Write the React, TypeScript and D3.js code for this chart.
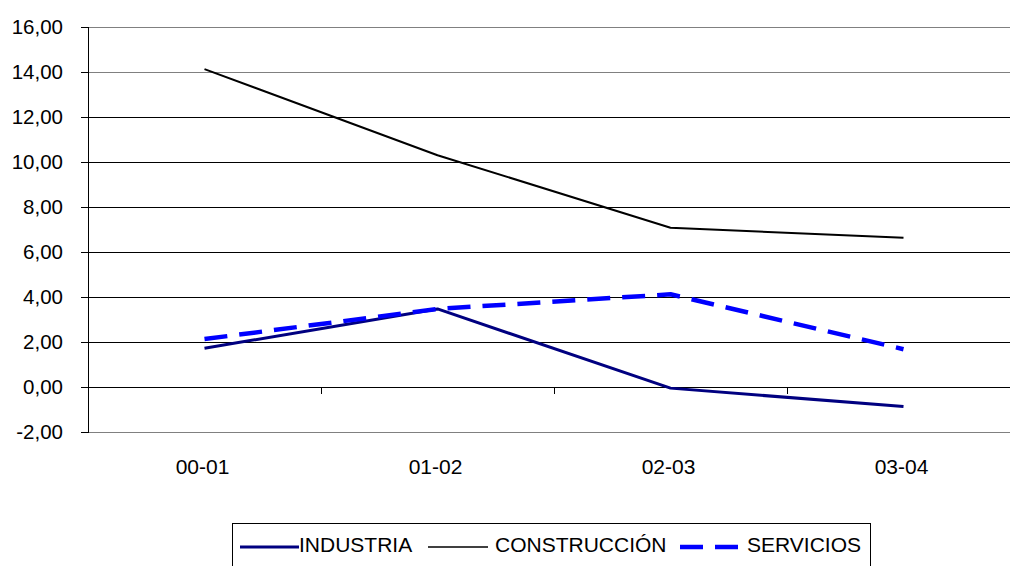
import React from 'react';
import * as d3 from 'd3';

// periods on the x axis
const periods = ['00-01', '01-02', '02-03', '03-04'];

// series values
const industria = [1.72, 3.47, -0.05, -0.87];
const construccion = [14.13, 10.3, 7.08, 6.63];
const servicios = [2.13, 3.47, 4.12, 1.68];

const yTicks = [-2, 0, 2, 4, 6, 8, 10, 12, 14, 16];

const seriesList = [
  { name: 'INDUSTRIA', values: industria, color: '#000080', width: 3, dash: '' },
  { name: 'CONSTRUCCIÓN', values: construccion, color: '#000000', width: 2, dash: '' },
  { name: 'SERVICIOS', values: servicios, color: '#0000ff', width: 4.5, dash: '23,12' },
];

const W = 1010;
const H = 566;
const FONT = '"Liberation Sans", Arial, sans-serif';

export default function App() {
  const left = 88;
  const right = 1020;
  const top = 27;
  const bottom = 432;

  const x = d3.scaleBand<string>().domain(periods).range([left, right]);
  const y = d3.scaleLinear().domain([-2, 16]).range([bottom, top]);
  const fmt = (v: number) => v.toFixed(2).replace('.', ',');

  const line = d3.line<number>()
    .x((_, i) => (x(periods[i]) as number) + x.bandwidth() / 2)
    .y(d => y(d));

  const boundaries = periods.map(p => x(p) as number).slice(1);

  return (
    <svg width={W} height={H} style={{ position: 'absolute', left: 0, top: 0, background: '#fff' }}
      fontFamily={FONT}>
      {/* grid lines */}
      {yTicks.map(t => (
        <line key={t} x1={left} x2={W} y1={y(t) + 0.5} y2={y(t) + 0.5}
          stroke={t === -2 || t >= 14 ? '#808080' : '#000'} strokeWidth={1} />
      ))}
      {/* y axis */}
      <line x1={left + 0.5} x2={left + 0.5} y1={top} y2={bottom + 1} stroke="#000" strokeWidth={1} />
      {yTicks.map(t => (
        <g key={'yt' + t}>
          <line x1={left - 7} x2={left} y1={y(t) + 0.5} y2={y(t) + 0.5} stroke="#000" />
          <text x={63} y={y(t)} dy="0.35em" textAnchor="end" fontSize={20.5} fill="#000">{fmt(t)}</text>
        </g>
      ))}
      {/* category ticks on zero line */}
      {[left, ...boundaries].map(b => (
        <line key={'xt' + b} x1={b + 0.5} x2={b + 0.5} y1={y(0)} y2={y(0) + 7} stroke="#000" />
      ))}
      {periods.map(p => (
        <text key={p} x={(x(p) as number) + x.bandwidth() / 2 - 2} y={467} dy="0.35em"
          textAnchor="middle" fontSize={21} fill="#000">{p}</text>
      ))}
      {/* series */}
      {seriesList.map(s => (
        <path key={s.name} d={line(s.values) || ''} fill="none" stroke={s.color}
          strokeWidth={s.width} strokeDasharray={s.dash || undefined} strokeLinejoin="round" />
      ))}
      {/* legend */}
      <rect x={232.5} y={523.5} width={638} height={60} fill="#fff" stroke="#000" strokeWidth={1} />
      <line x1={240} x2={299} y1={547} y2={547} stroke="#000080" strokeWidth={3} />
      <text x={299} y={552} fontSize={21} fill="#000">INDUSTRIA</text>
      <line x1={428} x2={488} y1={547} y2={547} stroke="#000" strokeWidth={1.5} />
      <text x={495} y={552} fontSize={21} fill="#000">CONSTRUCCIÓN</text>
      <line x1={680} x2={738} y1={547} y2={547} stroke="#0000ff" strokeWidth={4.5} strokeDasharray="23,12" />
      <text x={747} y={552} fontSize={21} fill="#000">SERVICIOS</text>
    </svg>
  );
}
